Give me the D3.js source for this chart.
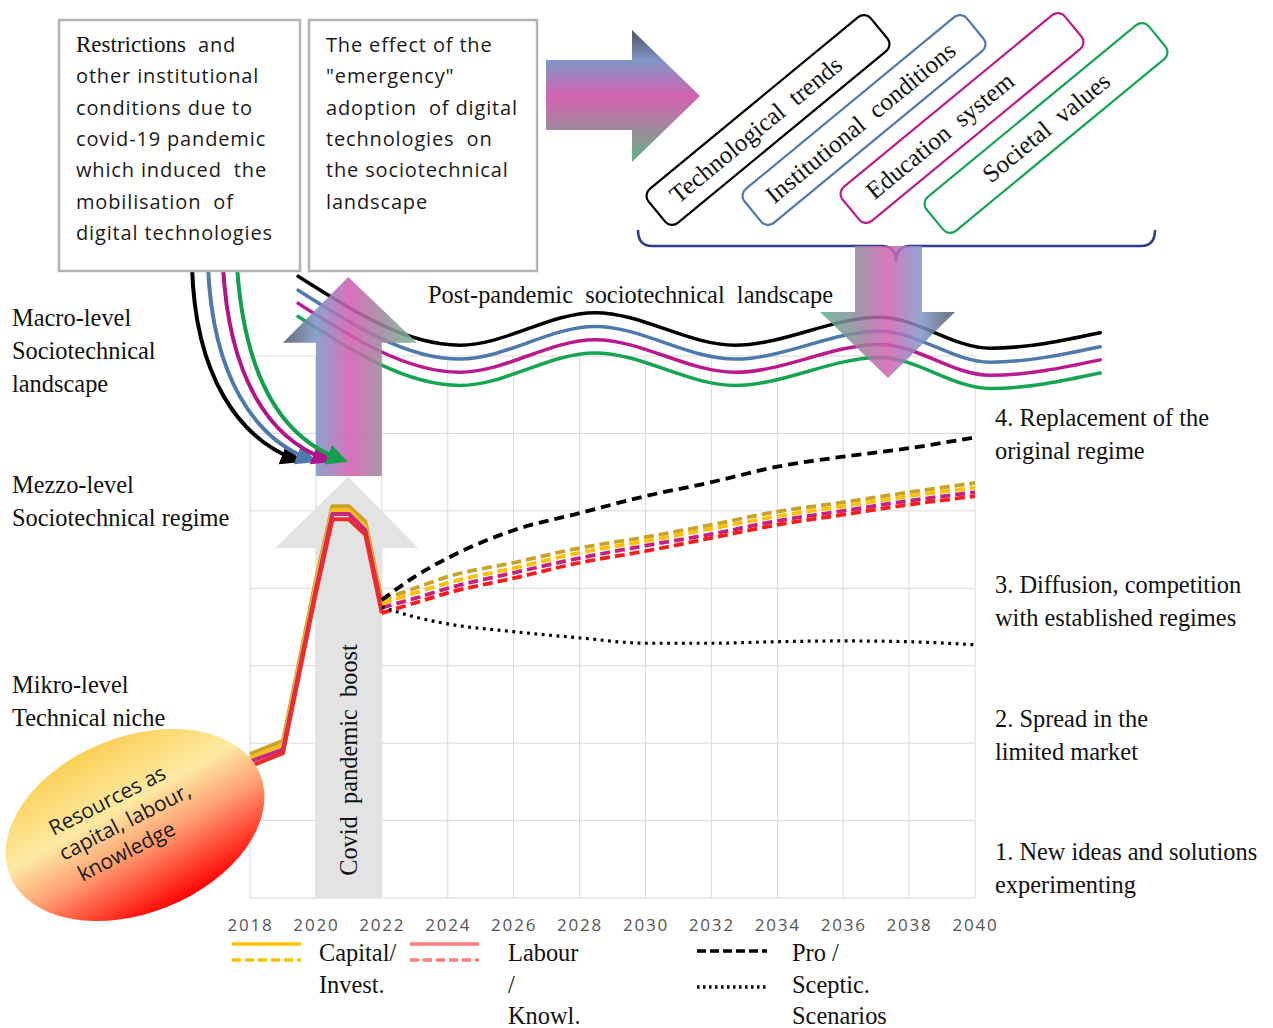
<!DOCTYPE html>
<html>
<head>
<meta charset="utf-8">
<script src="https://cdn.jsdelivr.net/npm/d3@7"></script>
<style>
  body { margin: 0; background: #fff; }
  svg { display: block; }
  text { white-space: pre; }
  .serif { font-family: "Liberation Serif", "Times New Roman", serif; font-size: 24.4px; fill: #111; }
  .sans { font-family: "Open Sans", sans-serif; font-size: 20px; fill: #1a1a1a; }
</style>
</head>
<body>
<svg id="chart" width="1273" height="1028"></svg>
<script>
//Axis ticks and grid levels
var tickYears = d3.range(2018, 2041, 2);
var gridLevels = d3.range(0, 8);

//Solid lines: pre-covid and covid period
var boostYears = [2018, 2019, 2020, 2020.5, 2021, 2021.5, 2022];
var boostCapital = [1.86, 2.03, 4.11, 5.06, 5.06, 4.86, 3.85];
var boostInvest  = [1.81, 1.98, 4.06, 5.01, 5.01, 4.80, 3.80];
var boostLabour  = [1.76, 1.92, 3.99, 4.96, 4.96, 4.75, 3.75];
var boostKnowl   = [1.70, 1.87, 3.94, 4.89, 4.89, 4.69, 3.68];

//Dashed lines: post-covid scenarios
var scenYears = [2022, 2023, 2024, 2026, 2028, 2030, 2032, 2034, 2036, 2038, 2040];
var scenCapital = [3.85, 4.00, 4.15, 4.33, 4.52, 4.66, 4.82, 4.99, 5.11, 5.24, 5.36];
var scenInvest  = [3.80, 3.94, 4.07, 4.26, 4.46, 4.61, 4.77, 4.93, 5.06, 5.19, 5.30];
var scenLabour  = [3.75, 3.87, 4.00, 4.20, 4.39, 4.55, 4.70, 4.87, 5.00, 5.13, 5.24];
var scenKnowl   = [3.68, 3.81, 3.94, 4.13, 4.33, 4.48, 4.65, 4.82, 4.95, 5.08, 5.19];
var scenPro     = [3.85, 4.15, 4.39, 4.75, 4.97, 5.19, 5.37, 5.57, 5.70, 5.81, 5.95];
var scenSceptic = [3.76, 3.63, 3.54, 3.44, 3.36, 3.29, 3.29, 3.31, 3.32, 3.31, 3.27];

//Post-pandemic landscape wave (top line), other lines sit below it
var waveYears = [2019.46, 2024.37, 2028.47, 2032.72, 2037.12, 2040.46, 2043.8];
var waveLevels = [8.03, 7.14, 7.56, 7.14, 7.50, 7.10, 7.30];
var waveOffsets = [0, 0.18, 0.35, 0.52];

//Landscape factors
var factorNames = ["Technological  trends", "Institutional  conditions", "Education  system", "Societal  values"];
var factorColors = ["#000000", "#4e79ad", "#bb1a8e", "#15a552"];

//Level labels
var leftLabels = [["Macro-level", "Sociotechnical", "landscape"], ["Mezzo-level", "Sociotechnical regime"], ["Mikro-level", "Technical niche"]];
var rightLabels = [["4. Replacement of the", "original regime"], ["3. Diffusion, competition", "with established regimes"],
                   ["2. Spread in the", "limited market"], ["1. New ideas and solutions", "experimenting"]];

var box1Lines = ["  and", "other institutional", "conditions due to", "covid-19 pandemic", "which induced  the", "mobilisation  of", "digital technologies"];
var box2Lines = ["The effect of the", "\"emergency\"", "adoption  of digital", "technologies  on", "the sociotechnical", "landscape"];

var svg = d3.select("#chart");
var defs = svg.append("defs");

var x = d3.scaleLinear().domain([2018, 2040]).range([250, 975]);
var y = d3.scaleLinear().domain([0, 7]).range([898, 356]);

//Gradients
function gradient(id, x1, y1, x2, y2, stops) {
    var g = defs.append("linearGradient").attr("id", id)
        .attr("gradientUnits", "userSpaceOnUse")
        .attr("x1", x1).attr("y1", y1).attr("x2", x2).attr("y2", y2);
    stops.forEach(function(s) {
        g.append("stop").attr("offset", s[0]).attr("stop-color", s[1]);
    });
}
gradient("gUp", x(2019), 0, x(2023.07), 0,
    [[0, "#555b6b"], [0.25, "#7f95c6"], [0.5, "#d35fb1"], [0.75, "#9c8a9c"], [1, "#6cbb8f"]]);
gradient("gRight", 0, 30, 0, 162,
    [[0, "#4d5363"], [0.23, "#7f96c8"], [0.5, "#d462b2"], [0.76, "#9c8a9a"], [1, "#5db585"]]);
gradient("gDown", 820, 0, 955, 0,
    [[0, "#5fb28a"], [0.26, "#8a8a9a"], [0.5, "#d35fb1"], [0.75, "#7f96c8"], [1, "#4f5566"]]);
var eg = defs.append("linearGradient").attr("id", "gEllipse")
    .attr("x1", 0.4).attr("y1", 0).attr("x2", 0.6).attr("y2", 1);
[[0, "#fbcf55"], [0.38, "#feeaa4"], [0.62, "#ff9f72"], [1, "#ff0000"]].forEach(function(s) {
    eg.append("stop").attr("offset", s[0]).attr("stop-color", s[1]);
});

//Grid
var grid = svg.append("g").attr("stroke", "#d9d9d9").attr("stroke-width", 1);
grid.selectAll("line.v").data(tickYears).enter().append("line")
    .attr("x1", function(d) { return x(d); }).attr("x2", function(d) { return x(d); })
    .attr("y1", y(0)).attr("y2", y(7));
grid.selectAll("line.h").data(gridLevels).enter().append("line")
    .attr("x1", x(2018)).attr("x2", x(2040))
    .attr("y1", function(d) { return y(d); }).attr("y2", function(d) { return y(d); });

//Tick labels
var xAxis = svg.append("g").attr("transform", "translate(0," + y(0) + ")")
    .call(d3.axisBottom(x).tickValues(tickYears).tickFormat(d3.format("d")).tickSize(0).tickPadding(21));
xAxis.select(".domain").remove();
xAxis.selectAll("text").style("font-family", "Open Sans, sans-serif").style("font-size", "17px")
    .style("letter-spacing", "1.8px").attr("fill", "#555");

//Covid boost arrow (light grey)
var line = d3.line().x(function(d) { return x(d[0]); }).y(function(d) { return y(d[1]); });
var curve = d3.line().curve(d3.curveMonotoneX).x(function(d) { return x(d[0]); }).y(function(d) { return y(d[1]); });

var boost = [[2020, 0], [2020, 4.52], [2018.76, 4.52], [2020.98, 5.44], [2023.1, 4.52], [2022, 4.52], [2022, 0]];
svg.append("path").attr("d", line(boost) + "Z").attr("fill", "#e3e3e3");
svg.append("text").attr("class", "serif")
    .attr("transform", "translate(" + (x(2021) + 8) + "," + 760 + ") rotate(-90)")
    .attr("text-anchor", "middle").text("Covid  pandemic  boost");

//Data lines
var boostSeries = [[boostCapital, "#c9a227"], [boostInvest, "#f5bd1f"], [boostLabour, "#c8297f"], [boostKnowl, "#ee2a2a"]];
boostSeries.forEach(function(s) {
    svg.append("path").attr("d", line(d3.zip(boostYears, s[0])))
        .attr("fill", "none").attr("stroke", s[1]).attr("stroke-width", 4).attr("stroke-linejoin", "round");
});

var scenSeries = [[scenCapital, "#c9a227"], [scenInvest, "#ffc000"], [scenLabour, "#c8207f"], [scenKnowl, "#ff1a1a"]];
scenSeries.forEach(function(s) {
    svg.append("path").attr("d", curve(d3.zip(scenYears, s[0])))
        .attr("fill", "none").attr("stroke", s[1]).attr("stroke-width", 3.8).attr("stroke-dasharray", "10,5");
});
svg.append("path").attr("d", curve(d3.zip(scenYears, scenPro)))
    .attr("fill", "none").attr("stroke", "#000").attr("stroke-width", 3.8).attr("stroke-dasharray", "10,6");
svg.append("path").attr("d", curve(d3.zip(scenYears, scenSceptic)))
    .attr("fill", "none").attr("stroke", "#000").attr("stroke-width", 3.2).attr("stroke-dasharray", "2.8,4.6");

//Landscape waves
waveOffsets.forEach(function(off, i) {
    svg.append("path")
        .attr("d", curve(waveYears.map(function(yr, j) { return [yr, waveLevels[j] - off]; })))
        .attr("fill", "none").attr("stroke", factorColors[i])
        .attr("stroke-width", 3.5).attr("stroke-linecap", "round");
});

//Gradient up arrow (covid -> landscape)
var upArrow = [[2020, 5.45], [2020, 7.17], [2019, 7.17], [2020.98, 8.02], [2023.07, 7.17], [2022, 7.17], [2022, 5.45]];
svg.append("path").attr("d", line(upArrow) + "Z").attr("fill", "url(#gUp)").attr("opacity", 0.88);

//Curved arrows from the restrictions box
var curveColors = ["#000", "#4e79ad", "#b0138a", "#12a04e"];
var curveStarts = [192, 208, 223, 237];
var curveEnds = [306, 321, 337, 352];
curveColors.forEach(function(c, i) {
    var m = defs.append("marker").attr("id", "head" + i).attr("viewBox", "0 0 10 10")
        .attr("refX", 6).attr("refY", 5).attr("markerWidth", 5.2).attr("markerHeight", 5.2)
        .attr("orient", "auto").attr("markerUnits", "strokeWidth");
    m.append("path").attr("d", "M0,0L10,5L0,10Z").attr("fill", c);
    var sx = curveStarts[i], ex = curveEnds[i];
    svg.append("path")
        .attr("d", "M" + sx + ",266 C" + (sx + 3 + i * 1.5) + ",378 " + (sx + 48 - i * 1) + ",438 " + (ex - 12) + ",459")
        .attr("fill", "none").attr("stroke", c).attr("stroke-width", 4)
        .attr("marker-end", "url(#head" + i + ")");
});

//Text boxes
function textBox(bx, bw, lines, first) {
    svg.append("rect").attr("x", bx).attr("y", 20).attr("width", bw).attr("height", 251)
        .attr("fill", "#fff").attr("stroke", "#b3b3b3").attr("stroke-width", 2.5);
    var t = svg.selectAll(null).data(lines).enter().append("text").attr("class", "sans")
        .style("letter-spacing", "0.85px")
        .attr("x", bx + 17).attr("y", function(d, i) { return 52 + i * 31.3; });
    t.each(function(d, i) {
        var el = d3.select(this);
        if (i === 0 && first) {
            el.append("tspan").attr("class", "serif").style("font-size", "23px").style("letter-spacing", "0px").text(first);
        }
        el.append("tspan").text(d);
    });
}
textBox(59, 241, box1Lines, "Restrictions");
textBox(309, 228, box2Lines, null);

//Right gradient arrow
svg.append("path").attr("d", "M546,60L632,60L632,30L700,96L632,162L632,130L546,130Z").attr("fill", "url(#gRight)");

//Rotated factor boxes
var factorCenters = [[768, 120], [864, 120], [962, 118], [1046, 128]];
factorNames.forEach(function(name, i) {
    var g = svg.append("g").attr("transform", "translate(" + factorCenters[i][0] + "," + factorCenters[i][1] + ") rotate(-39.5)");
    g.append("rect").attr("x", -144).attr("y", -22).attr("width", 288).attr("height", 44).attr("rx", 9)
        .attr("fill", "#fff").attr("stroke", factorColors[i]).attr("stroke-width", 2.2);
    g.append("text").attr("class", "serif").style("font-size", "25px").attr("fill", factorColors[i])
        .attr("x", i === 3 ? -78 : (i === 2 ? -120 : -123)).attr("y", 8).text(name);
});

//Brace under the factors
svg.append("path").attr("d", "M638,230 Q638,246 652,246 L882,246 Q896,246 896,262 Q896,246 910,246 L1141,246 Q1155,246 1155,230")
    .attr("fill", "none").attr("stroke", "#2f3d8c").attr("stroke-width", 2.5);

//Down gradient arrow
svg.append("path").attr("d", "M855,246L922,246L922,312L955,312L888,378L820,312L855,312Z")
    .attr("fill", "url(#gDown)").attr("opacity", 0.85);

svg.append("text").attr("class", "serif").attr("x", 428).attr("y", 303).text("Post-pandemic  sociotechnical  landscape");

//Level labels
var leftY = [326, 493, 693];
leftLabels.forEach(function(ls, i) {
    ls.forEach(function(t, j) {
        svg.append("text").attr("class", "serif").attr("x", 12).attr("y", leftY[i] + j * 33).text(t);
    });
});
var rightY = [426, 593, 727, 860];
rightLabels.forEach(function(ls, i) {
    ls.forEach(function(t, j) {
        svg.append("text").attr("class", "serif").attr("x", 995).attr("y", rightY[i] + j * 33).text(t);
    });
});

//Resources ellipse
var eGrp = svg.append("g").attr("transform", "translate(135,825) rotate(-22)");
eGrp.append("ellipse").attr("rx", 135).attr("ry", 88).attr("fill", "url(#gEllipse)");
var tGrp = svg.append("g").attr("transform", "translate(125,822) rotate(-27)");
[["Resources as", -6, -20], ["capital, labour,", 0, 7], ["knowledge", -12, 34]].forEach(function(l) {
    tGrp.append("text").attr("class", "sans").style("font-size", "21px").attr("text-anchor", "middle")
        .attr("x", l[1]).attr("y", l[2]).text(l[0]);
});

//Legend
var legend = svg.append("g");
function legLine(x1, x2, yy, color, dash) {
    legend.append("line").attr("x1", x1).attr("x2", x2).attr("y1", yy).attr("y2", yy)
        .attr("stroke", color).attr("stroke-width", 3.5).attr("stroke-dasharray", dash);
}
legLine(232, 301, 944, "#ffc000", null);
legLine(232, 301, 960, "#ffc000", "9,4");
legLine(410, 479, 944, "#ff7f7f", null);
legLine(410, 479, 960, "#ff7f7f", "9,4");
legLine(697, 767, 951, "#000", "9,4");
legLine(697, 767, 987, "#000", "2.5,3.5");
[[319, ["Capital/", "Invest."]], [508, ["Labour", "/", "Knowl."]], [792, ["Pro /", "Sceptic.", "Scenarios"]]].forEach(function(l) {
    l[1].forEach(function(t, j) {
        legend.append("text").attr("class", "serif").attr("x", l[0]).attr("y", 961 + j * 31.5).text(t);
    });
});
</script>
</body>
</html>
